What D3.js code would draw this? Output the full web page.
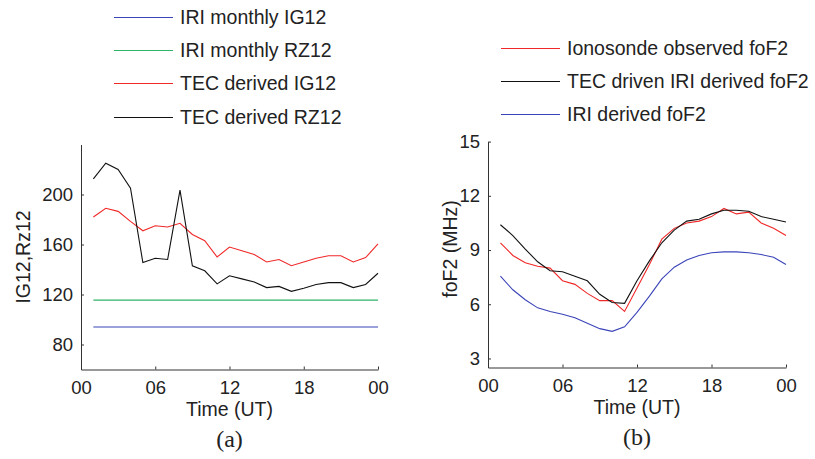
<!DOCTYPE html>
<html>
<head>
<meta charset="utf-8">
<script src="https://cdn.jsdelivr.net/npm/d3@7"></script>
<style>
  body { margin: 0; background: #fff; }
  text { font-family: "Liberation Sans", Arial, sans-serif; fill: #222; }
  .axis path, .axis line { stroke: #333; stroke-width: 1; }
</style>
</head>
<body>
<div id="chart"></div>
<script>
// ---- data ----
var hours = d3.range(1, 25);

// panel (a): solar indices
var iri_ig12 = hours.map(function(){ return 94; });
var iri_rz12 = hours.map(function(){ return 115.5; });
var tec_ig12 = [182, 189, 186.5, 178.5, 171, 175, 174, 177, 168, 163, 150, 158,
                155, 152, 146, 148, 143, 146, 149, 151, 151, 146, 149.5, 160.5];
var tec_rz12 = [212.5, 225, 220, 205, 145.5, 149, 148, 203.5, 143, 139, 128.5, 135,
                132.5, 130, 125.5, 126.5, 122.5, 125, 128, 129.5, 129.5, 125.5, 128, 137];

// panel (b): foF2
var obs_fof2 = [9.4, 8.7, 8.3, 8.1, 8.0, 7.3, 7.1, 6.6, 6.2, 6.2, 5.6, 6.9,
                8.2, 9.6, 10.2, 10.5, 10.6, 10.85, 11.3, 11.0, 11.1, 10.5, 10.2, 9.8];
var tec_iri_fof2 = [10.4, 9.8, 9.05, 8.35, 7.85, 7.8, 7.55, 7.3, 6.55, 6.1, 6.05, 7.3,
                    8.4, 9.4, 10.1, 10.6, 10.7, 11.0, 11.2, 11.2, 11.15, 10.85, 10.7, 10.55];
var iri_fof2 = [7.55, 6.8, 6.25, 5.8, 5.6, 5.45, 5.25, 4.95, 4.65, 4.5, 4.75, 5.55,
                6.45, 7.4, 8.05, 8.45, 8.7, 8.85, 8.9, 8.9, 8.85, 8.75, 8.6, 8.2];

var x_ticks = [0, 6, 12, 18, 24];
var ya_ticks = [80, 120, 160, 200];
var yb_ticks = [3, 6, 9, 12, 15];

var legend_a = ['IRI monthly IG12', 'IRI monthly RZ12', 'TEC derived IG12', 'TEC derived RZ12'];
var legend_b = ['Ionosonde observed foF2', 'TEC driven IRI derived foF2', 'IRI derived foF2'];

var c_blue = '#3a44b8', c_green = '#2fb36a', c_red = '#f02828', c_black = '#111';

// ---- canvas ----
var svg = d3.select('#chart').append('svg')
  .attr('width', 815).attr('height', 459);

var fmt_hour = function(d){ return d3.format('02d')(d % 24); };

function draw_panel(cfg)
{
  var x = d3.scaleLinear().domain([0, 24]).range(cfg.xr);
  var y = d3.scaleLinear().domain(cfg.yd).range(cfg.yr);
  var g = svg.append('g');

  var xAxis = d3.axisBottom(x).tickValues(x_ticks).tickFormat(fmt_hour)
    .tickSizeInner(-3).tickSizeOuter(0).tickPadding(11);
  var xg = g.append('g').attr('class', 'axis')
    .attr('transform', 'translate(0,' + cfg.yr[0] + ')').call(xAxis);
  xg.selectAll('text').attr('font-size', 18.5).attr('fill', '#222');

  var yAxis = d3.axisLeft(y).tickValues(cfg.yt)
    .tickSizeInner(-3).tickSizeOuter(0).tickPadding(8);
  var yg = g.append('g').attr('class', 'axis')
    .attr('transform', 'translate(' + cfg.xr[0] + ',0)').call(yAxis);
  yg.selectAll('text').attr('font-size', 18.5).attr('fill', '#222');

  g.append('text').attr('x', (cfg.xr[0] + cfg.xr[1]) / 2).attr('y', cfg.yr[0] + 46)
    .attr('text-anchor', 'middle').attr('font-size', 19.5).text('Time (UT)');

  g.append('text')
    .attr('transform', 'translate(' + cfg.ylx + ',' + cfg.ylc + ') rotate(-90)')
    .attr('text-anchor', 'middle').attr('font-size', 19.5).text(cfg.ylabel);

  g.append('text').attr('x', (cfg.xr[0] + cfg.xr[1]) / 2).attr('y', cfg.yr[0] + 77)
    .attr('text-anchor', 'middle').attr('font-size', 24)
    .style('font-family', '"Liberation Serif", "Times New Roman", serif')
    .text(cfg.tag);

  var line = d3.line().x(function(d, i){ return x(hours[i]); }).y(function(d){ return y(d); });
  cfg.series.forEach(function(s){
    g.append('path').datum(s.values)
      .attr('fill', 'none').attr('stroke', s.color).attr('stroke-width', 1.1)
      .attr('d', line);
  });

  // legend (one short line + label per series)
  var lg = g.selectAll('.legend').data(cfg.series)
    .enter().append('g').attr('class', 'legend')
    .attr('transform', function(d, i){ return 'translate(' + cfg.lx + ',' + Math.round(cfg.ly + i * cfg.lstep) + ')'; });
  lg.append('line').attr('x1', 0).attr('x2', 59).attr('y1', 0.5).attr('y2', 0.5)
    .style('stroke', function(d){ return d.color; }).style('stroke-width', 1.2);
  lg.append('text').attr('x', 66).attr('y', 7).attr('font-size', 19.5)
    .text(function(d){ return d.name; });
}

draw_panel({
  xr: [81, 378], yd: [60, 240], yr: [369.5, 144.5], yt: ya_ticks,
  ylabel: 'IG12,Rz12', ylx: 30, ylc: 257, tag: '(a)',
  lx: 114, ly: 17, lstep: 33.2,
  series: [
    {name: legend_a[0], color: c_blue, values: iri_ig12},
    {name: legend_a[1], color: c_green, values: iri_rz12},
    {name: legend_a[2], color: c_red, values: tec_ig12},
    {name: legend_a[3], color: c_black, values: tec_rz12}
  ]
});

draw_panel({
  xr: [488, 786], yd: [2.5, 15], yr: [367.5, 141.6], yt: yb_ticks,
  ylabel: 'foF2 (MHz)', ylx: 457, ylc: 249, tag: '(b)',
  lx: 501, ly: 48, lstep: 33,
  series: [
    {name: legend_b[0], color: c_red, values: obs_fof2},
    {name: legend_b[1], color: c_black, values: tec_iri_fof2},
    {name: legend_b[2], color: c_blue, values: iri_fof2}
  ]
});
</script>
</body>
</html>
